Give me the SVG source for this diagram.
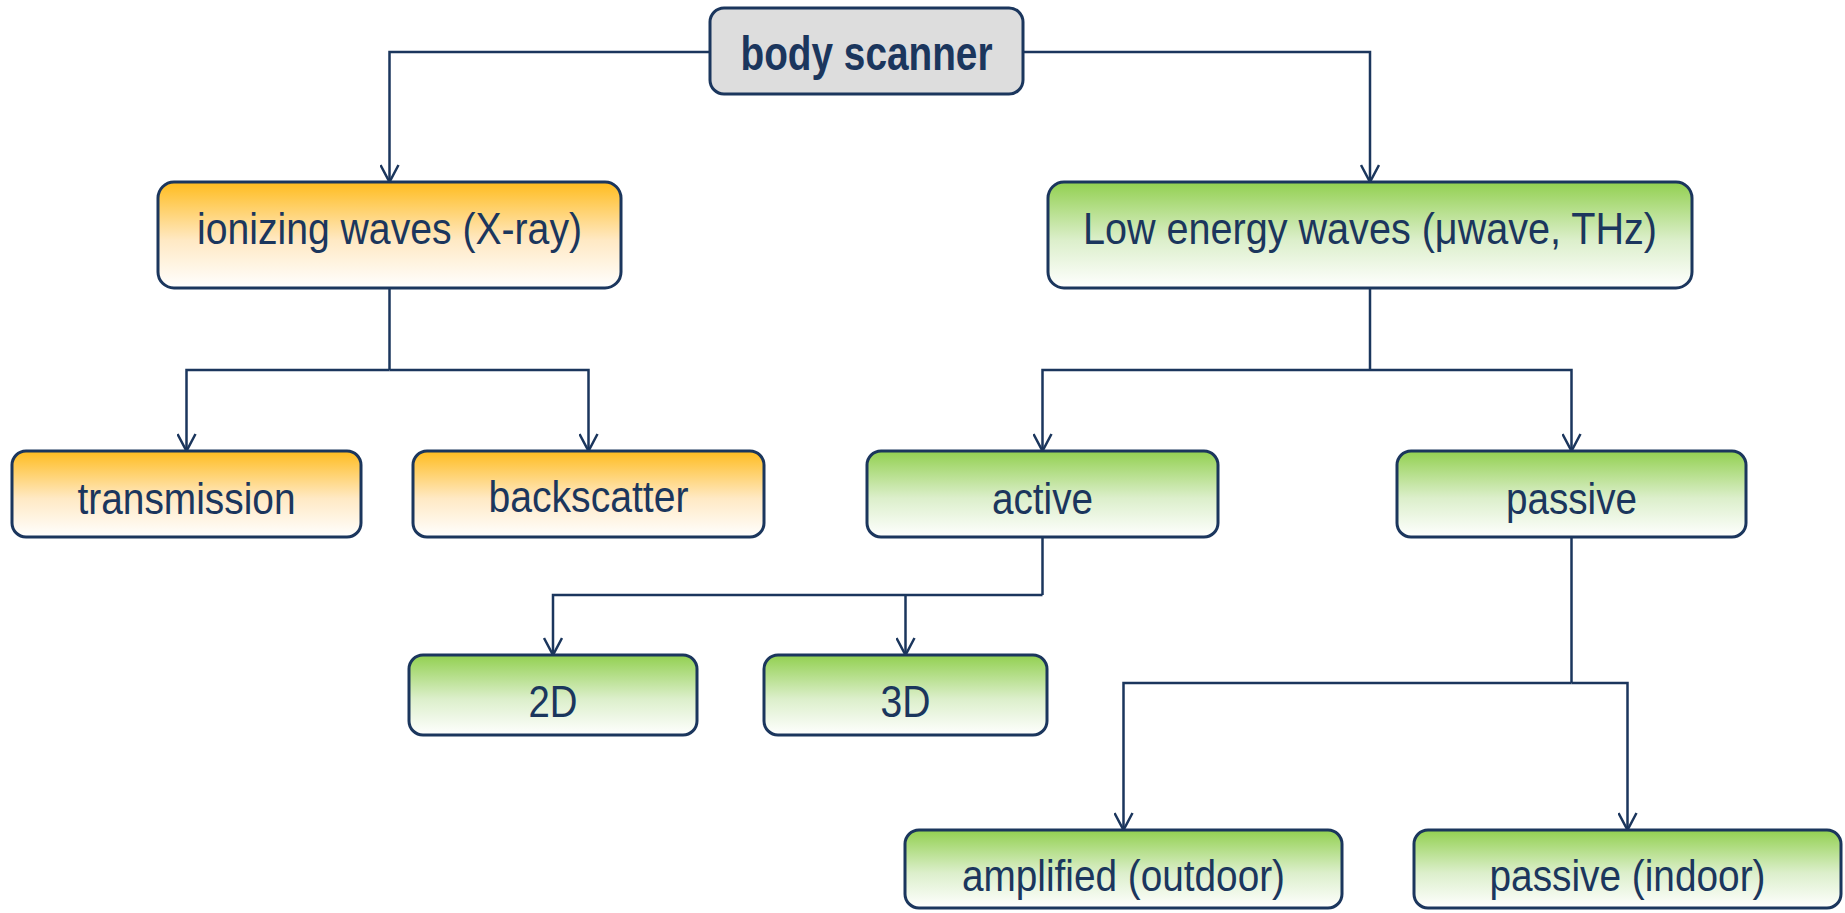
<svg xmlns="http://www.w3.org/2000/svg" width="1845" height="913" viewBox="0 0 1845 913">
<defs>
<linearGradient id="gOrange" x1="0" y1="0" x2="0" y2="1">
<stop offset="0" stop-color="#FFBC1E"/>
<stop offset="0.55" stop-color="#FFE9C4"/>
<stop offset="1" stop-color="#FFFFFF"/>
</linearGradient>
<linearGradient id="gGreen" x1="0" y1="0" x2="0" y2="1">
<stop offset="0" stop-color="#92D050"/>
<stop offset="0.55" stop-color="#DCEFCB"/>
<stop offset="1" stop-color="#FFFFFF"/>
</linearGradient>
<marker id="arr" viewBox="0 0 20 20" refX="18" refY="10" markerWidth="20" markerHeight="20" markerUnits="userSpaceOnUse" orient="auto">
<path d="M1,1 L18,10 L1,19" fill="none" stroke="#1B365D" stroke-width="2.5"/>
</marker>
</defs>
<style>
.box{stroke:#1B365D;stroke-width:3}
.grey{fill:#DDDDDD}
.or{fill:url(#gOrange)}
.gr{fill:url(#gGreen)}
.t{font-family:"Liberation Sans",Arial,sans-serif;font-size:44px;fill:#1B365D;text-anchor:middle}
.tb{font-family:"Liberation Sans",Arial,sans-serif;font-size:49px;font-weight:bold;fill:#1B365D;text-anchor:middle}
.c{fill:none;stroke:#1B365D;stroke-width:2.5}
.ca{fill:none;stroke:#1B365D;stroke-width:2.5;marker-end:url(#arr)}
</style>
<rect width="1845" height="913" fill="#FFFFFF"/>
<g id="connectors">
<path class="ca" d="M710,52 H389.5 V182"/>
<path class="ca" d="M1023,52 H1370 V182"/>
<path class="c" d="M389.5,288 V370"/>
<path class="ca" d="M389.5,370 H186.5 V451"/>
<path class="ca" d="M389.5,370 H588.5 V451"/>
<path class="c" d="M1370,288 V370"/>
<path class="ca" d="M1370,370 H1042.5 V451"/>
<path class="ca" d="M1370,370 H1571.5 V451"/>
<path class="c" d="M1042.5,537 V595"/>
<path class="ca" d="M1042.5,595 H553 V655"/>
<path class="ca" d="M905.5,595 V655"/>
<path class="c" d="M1571.5,537 V683"/>
<path class="ca" d="M1571.5,683 H1123.5 V830"/>
<path class="ca" d="M1571.5,683 H1627.5 V830"/>
</g>
<g id="body-scanner">
<rect class="box grey" x="710" y="8" width="313" height="86" rx="14"/>
<text class="tb" x="866.5" y="70" textLength="252" lengthAdjust="spacingAndGlyphs">body scanner</text>
</g>
<g id="ionizing">
<rect class="box or" x="158" y="182" width="463" height="106" rx="16"/>
<text class="t" x="389.5" y="244" textLength="385" lengthAdjust="spacingAndGlyphs">ionizing waves (X-ray)</text>
</g>
<g id="low-energy">
<rect class="box gr" x="1048" y="182" width="644" height="106" rx="16"/>
<text class="t" x="1370" y="244" textLength="574" lengthAdjust="spacingAndGlyphs">Low energy waves (μwave, THz)</text>
</g>
<g id="transmission">
<rect class="box or" x="12" y="451" width="349" height="86" rx="14"/>
<text class="t" x="186.5" y="514" textLength="218" lengthAdjust="spacingAndGlyphs">transmission</text>
</g>
<g id="backscatter">
<rect class="box or" x="413" y="451" width="351" height="86" rx="14"/>
<text class="t" x="588.5" y="512" textLength="200" lengthAdjust="spacingAndGlyphs">backscatter</text>
</g>
<g id="active">
<rect class="box gr" x="867" y="451" width="351" height="86" rx="14"/>
<text class="t" x="1042.5" y="514" textLength="101" lengthAdjust="spacingAndGlyphs">active</text>
</g>
<g id="passive">
<rect class="box gr" x="1397" y="451" width="349" height="86" rx="14"/>
<text class="t" x="1571.5" y="514" textLength="131" lengthAdjust="spacingAndGlyphs">passive</text>
</g>
<g id="n2d">
<rect class="box gr" x="409" y="655" width="288" height="80" rx="14"/>
<text class="t" x="553" y="717" textLength="49" lengthAdjust="spacingAndGlyphs">2D</text>
</g>
<g id="n3d">
<rect class="box gr" x="764" y="655" width="283" height="80" rx="14"/>
<text class="t" x="905.5" y="717" textLength="50" lengthAdjust="spacingAndGlyphs">3D</text>
</g>
<g id="amplified">
<rect class="box gr" x="905" y="830" width="437" height="78" rx="14"/>
<text class="t" x="1123.5" y="891" textLength="323" lengthAdjust="spacingAndGlyphs">amplified (outdoor)</text>
</g>
<g id="passive-indoor">
<rect class="box gr" x="1414" y="830" width="427" height="78" rx="14"/>
<text class="t" x="1627.5" y="891" textLength="276" lengthAdjust="spacingAndGlyphs">passive (indoor)</text>
</g>
</svg>
